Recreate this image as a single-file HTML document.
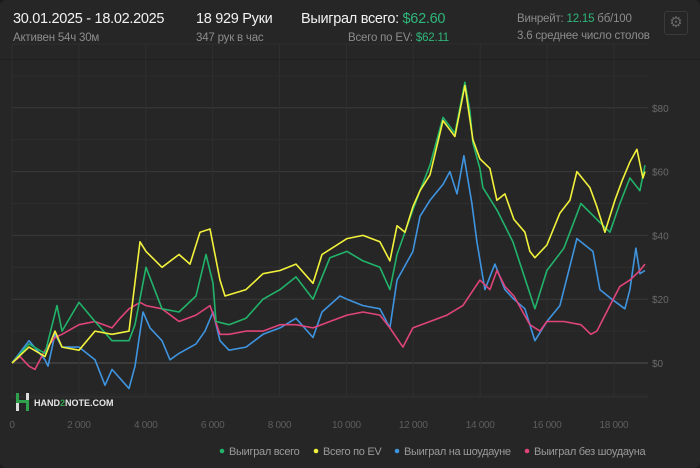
<!DOCTYPE html>
<html><head><meta charset="utf-8">
<style>
body{margin:0;background:#1b1b1b;font-family:"Liberation Sans",sans-serif;}
#card{position:absolute;left:0;top:0;width:700px;height:468px;background:#262626;border-radius:6px;overflow:hidden;}
.t{position:absolute;white-space:nowrap;}
.big{font-size:14.5px;color:#f2f2f2;letter-spacing:-0.3px;}
.sm{font-size:11.5px;color:#8c8c8c;letter-spacing:-0.2px;}
.g{color:#2fb67a;}
</style></head><body>
<div id="card">
<div class="t big" style="left:13px;top:11px">30.01.2025 - 18.02.2025</div>
<div class="t sm" style="left:13px;top:32px">Активен 54ч 30м</div>
<div class="t big" style="left:196px;top:11px">18 929 Руки</div>
<div class="t sm" style="left:196px;top:32px">347 рук в час</div>
<div class="t big" style="left:301px;top:11px">Выиграл всего: <span class="g">$62.60</span></div>
<div class="t sm" style="right:251px;top:32px">Всего по EV: <span class="g">$62.11</span></div>
<div class="t sm" style="left:517px;top:13px">Винрейт: <span class="g">12.15</span> бб/100</div>
<div class="t sm" style="left:517px;top:30px">3.6 среднее число столов</div>
<div class="t" style="left:664px;top:11px;width:22px;height:22px;border:1px solid #3a3a3a;border-radius:3px;color:#666;font-size:15px;text-align:center;line-height:22px">⚙</div>
<div class="t" style="left:0;top:59px;width:700px;height:1px;background:#1f1f1f"></div>
<svg id="chart" width="700" height="468" style="position:absolute;left:0;top:0"></svg>
</div>
<script>
const xTicks=[0,2000,4000,6000,8000,10000,12000,14000,16000,18000];
const xTickLabels=["0","2 000","4 000","6 000","8 000","10 000","12 000","14 000","16 000","18 000"];
const yTicks=[0,20,40,60,80];
const yTickLabels=["$0","$20","$40","$60","$80"];
const yMinor=[-10,10,30,50,70,90,100];
const seriesNames=["Выиграл всего","Всего по EV","Выиграл на шоудауне","Выиграл без шоудауна"];
const seriesColors=["#22b36a","#f2f23c","#3f94e0","#e0447a"];
const totalHands=[0,508,987,1346,1495,2003,2482,2990,3499,3678,4007,4485,4993,5502,5801,6010,6100,6489,6997,7505,8013,8492,9000,9508,10017,10495,11003,11302,11512,11990,12200,12499,12888,13246,13545,13694,13784,13993,14083,14502,14980,15637,15997,16505,17013,17492,17880,18179,18478,18777,18929];
const totalValues=[0,6,3,18,10,19,13,7,7,12,30,17,16,21,34,25,13,12,14,20,23,27,20,33,35,32,30,23,34,48,54,62,77,72,88,79,69,61,55,48,38,17,29,36,50,45,41,50,58,54,62];
const evHands=[0,508,987,1286,1495,2003,2482,2990,3499,3827,4007,4485,4993,5322,5621,5920,6219,6369,6997,7505,8013,8492,9000,9269,10017,10495,11003,11302,11512,11751,11990,12200,12499,12888,13246,13545,13784,13993,14292,14502,14741,15010,15339,15488,15637,15997,16385,16684,16894,17282,17492,17731,18030,18239,18478,18687,18866,18929];
const evValues=[0,5,2,10,5,4,10,9,10,38,35,30,34,31,41,42,26,21,23,28,29,31,25,34,39,40,38,32,43,41,49,54,59,76,71,87,70,64,61,51,53,45,41,35,33,37,47,51,60,55,49,41,51,57,63,67,58,60];
const sdHands=[0,508,987,1076,1286,1495,2003,2482,2781,2990,3499,3678,3917,4126,4485,4724,4993,5502,5771,6010,6219,6489,6997,7505,8013,8492,9000,9269,9807,10017,10495,11003,11302,11512,11990,12200,12499,12888,13096,13306,13515,13754,13904,14143,14442,14741,15010,15339,15637,15997,16385,16894,17372,17581,17940,18329,18478,18658,18777,18929];
const sdValues=[0,7,1,-1,9,5,5,1,-7,-2,-8,-1,16,11,7,1,3,6,10,16,7,4,5,9,11,14,8,16,21,20,18,17,11,26,35,46,51,56,60,53,65,50,38,23,31,23,20,17,7,13,18,39,35,23,20,17,23,36,28,29];
const nsdHands=[0,239,508,688,987,1286,1495,2003,2482,2990,3229,3499,3827,4007,4485,4993,5502,5920,6219,6489,6997,7505,8013,8492,9000,9508,10017,10495,11003,11302,11691,11990,12499,13007,13485,13993,14292,14502,14741,15010,15488,15787,15997,16505,17013,17312,17492,17880,18179,18478,18777,18929];
const nsdValues=[0,2,-1,-2,4,8,9,12,13,11,14,17,19,18,17,13,15,18,9,9,10,10,12,12,11,13,15,16,15,11,5,11,13,15,18,26,23,29,24,21,12,10,13,13,12,9,10,18,24,26,29,31];

const NS="http://www.w3.org/2000/svg";
const svg=document.getElementById('chart');
const X0=12,PX_PER_HAND=0.03344,Y0=363,PX_PER_USD=3.19,L=12,R=648,T=44,B=397;
function xs(h){return X0+h*PX_PER_HAND;}
function ys(v){return Y0-v*PX_PER_USD;}
function mk(tag,attrs){const e=document.createElementNS(NS,tag);for(const k in attrs)e.setAttribute(k,attrs[k]);svg.appendChild(e);return e;}

yMinor.forEach(v=>{
  const ln=mk('line',{x1:L,x2:R,y1:ys(v),y2:ys(v),stroke:'#2e2e2e','stroke-width':1});
  
  
});
yTicks.forEach((v,i)=>{
  const ln=mk('line',{x1:L,x2:R,y1:ys(v),y2:ys(v),stroke:v===0?'#505050':'#3a3a3a','stroke-width':1});
  
  
  const tx=mk('text',{x:652,y:ys(v)+4,fill:'#6a6a6a','font-size':10,'font-family':'Liberation Sans'});
  tx.textContent=yTickLabels[i];
  
  
});
xTicks.forEach((h,i)=>{
  const ln=mk('line',{x1:xs(h),x2:xs(h),y1:T,y2:B,stroke:'#2f2f2f','stroke-width':1});
  
  
  const tx=mk('text',{x:xs(h),y:428,fill:'#5e5e5e','font-size':10,'text-anchor':'middle','font-family':'Liberation Sans','letter-spacing':'-0.3'});
  tx.textContent=xTickLabels[i];
  
  
});
const bl=mk('line',{x1:L,x2:R,y1:B,y2:B,stroke:'#333','stroke-width':1});



const wm=mk('g',{});


wm.innerHTML='<rect x="16" y="393" width="3" height="18" fill="#ddd"/><rect x="26" y="393" width="3" height="18" fill="#ddd"/><rect x="16" y="400" width="13" height="3" fill="#2fa14e"/><rect x="16" y="393" width="3" height="8" fill="#2fa14e"/><rect x="26" y="403" width="3" height="8" fill="#2fa14e"/><text x="34" y="406" fill="#e6e6e6" font-size="9" font-weight="bold" font-family="Liberation Sans">HAND<tspan fill="#2fa14e">2</tspan>NOTE.COM</text>';

const sets=[[totalHands,totalValues],[evHands,evValues],[sdHands,sdValues],[nsdHands,nsdValues]];
const order=[2,3,0,1];
const lineNames=['line-total-won','line-ev','line-showdown','line-non-showdown'];
order.forEach(i=>{
  const [hs,vs]=sets[i];
  const d=hs.map((h,j)=>(j?'L':'M')+xs(h).toFixed(1)+' '+ys(vs[j]).toFixed(1)).join(' ');
  const p=mk('path',{d:d,fill:'none',stroke:seriesColors[i],'stroke-width':1.6,'stroke-linejoin':'round'});
  
  
});

const legX=[222,316,397,527];
seriesNames.forEach((n,i)=>{
  const c=mk('circle',{cx:legX[i],cy:451,r:2.3,fill:seriesColors[i]});
  
  
  const t=mk('text',{x:legX[i]+7,y:455,fill:'#9a9a9a','font-size':11,'font-family':'Liberation Sans','letter-spacing':'-0.3'});
  t.textContent=n;
  
  
});
</script>
</body></html>
